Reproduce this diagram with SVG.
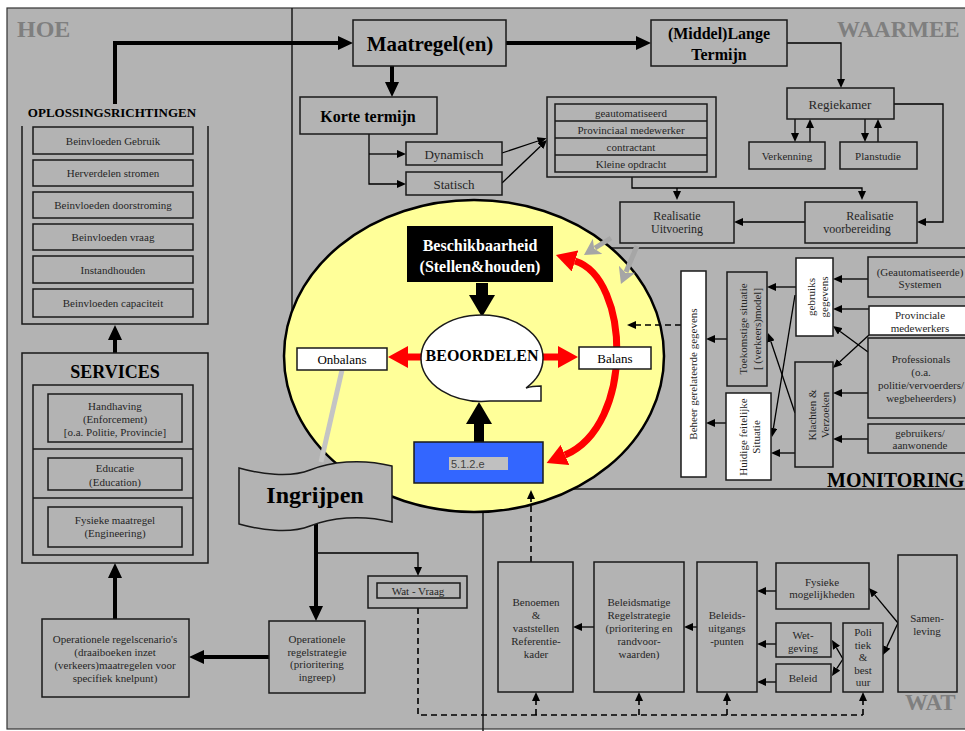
<svg xmlns="http://www.w3.org/2000/svg" width="965" height="731" viewBox="0 0 965 731">
<defs>
<style>
.bx{fill:#b3b3b3;stroke:#1a1a1a;stroke-width:1.5}
.wb{fill:#fff;stroke:#1a1a1a;stroke-width:1.5}
.t{font-family:"Liberation Serif","Times New Roman",serif;font-size:11px;fill:#262626;text-anchor:middle}
.t12{font-size:12px}
.t13{font-size:13px}
.tb{font-family:"Liberation Serif","Times New Roman",serif;font-weight:bold;fill:#000;text-anchor:middle}
.rg{font-family:"Liberation Serif","Times New Roman",serif;font-weight:bold;fill:#7f7f7f}
.thick{fill:none;stroke:#000;stroke-width:4}
.thin{fill:none;stroke:#000;stroke-width:1.3}
.dash{fill:none;stroke:#000;stroke-width:1.6;stroke-dasharray:6 4}
.red{fill:none;stroke:#f00;stroke-width:7}
.gr{fill:none;stroke:#a6a6a6;stroke-width:5}
.dv{fill:none;stroke:#1a1a1a;stroke-width:1.5}
</style>
<marker id="ah" markerUnits="userSpaceOnUse" markerWidth="16" markerHeight="14" refX="0" refY="7" orient="auto"><path d="M0,0 L15,7 L0,14 Z" fill="#000"/></marker>
<marker id="as" markerUnits="userSpaceOnUse" markerWidth="10" markerHeight="8" refX="0" refY="4" orient="auto"><path d="M0,0 L9,4 L0,8 Z" fill="#000"/></marker>
<marker id="ar" markerUnits="userSpaceOnUse" markerWidth="21" markerHeight="22" refX="0" refY="11" orient="auto-start-reverse"><path d="M0,0 L20,11 L0,22 Z" fill="#f00"/></marker>
<marker id="ag" markerUnits="userSpaceOnUse" markerWidth="17" markerHeight="18" refX="3" refY="9" orient="auto"><path d="M0,0 L16,9 L0,18 L4,9 Z" fill="#a6a6a6"/></marker>
<marker id="ab" markerUnits="userSpaceOnUse" markerWidth="23" markerHeight="26" refX="0" refY="13" orient="auto"><path d="M0,0 L22,13 L0,26 Z" fill="#000"/></marker>
</defs>

<rect x="7" y="8" width="965" height="721" fill="#b3b3b3" stroke="#333" stroke-width="1.2"/>

<g id="regions">
<path class="dv" d="M292,8 V330"/>
<path class="dv" d="M600,248 H965"/>
<path class="dv" d="M560,489 H965"/>
<path class="dv" d="M483,490 V731"/>
<text class="rg" x="17" y="37" font-size="24">HOE</text>
<text class="rg" x="837" y="37" font-size="23">WAARMEE</text>
<text class="rg" x="905" y="710" font-size="23">WAT</text>
<text class="tb" x="827" y="487" font-size="20" style="text-anchor:start">MONITORING</text>
</g>

<g id="beoordelingscirkel">
<ellipse cx="474" cy="356" rx="190" ry="156" fill="#ffff99" stroke="#000" stroke-width="2.5"/>
</g>

<g id="connectors">
<path class="thick" d="M115,104 V43 H338" marker-end="url(#ah)"/>
<path class="thick" d="M506,43 H636" marker-end="url(#ah)"/>
<path class="thick" d="M392,66 V82" marker-end="url(#ah)"/>
<path class="thin" d="M369,134 V184 H397" marker-end="url(#as)"/>
<path class="thin" d="M369,154 H397" marker-end="url(#as)"/>
<path class="thin" d="M502,153 L538,141" marker-end="url(#as)"/>
<path class="thin" d="M502,183 L540.5,146.2" marker-end="url(#as)"/>
<path class="thin" d="M632,172 V188 H862 V191" marker-end="url(#as)"/>
<path class="thin" d="M677,188 V191" marker-end="url(#as)"/>
<path class="thin" d="M787,43 H841 V79" marker-end="url(#as)"/>
<path class="thin" d="M894,104 H943 V222 H926" marker-end="url(#as)"/>
<path class="thin" d="M805,222 H743" marker-end="url(#as)"/>
<path class="thin" d="M795,119 V133" marker-end="url(#as)"/>
<path class="thin" d="M810,142 V128" marker-end="url(#as)"/>
<path class="thin" d="M865,119 V133" marker-end="url(#as)"/>
<path class="thin" d="M878,142 V128" marker-end="url(#as)"/>
<path class="thick" d="M115,353 V340" marker-end="url(#ah)"/>
<path class="thick" d="M115,619 V578" marker-end="url(#ah)"/>
<path class="thick" d="M269,657 H204" marker-end="url(#ah)"/>
<path class="thick" d="M316,522 V606" marker-end="url(#ah)"/>
<path class="thin" d="M316,553 H418 V567" marker-end="url(#as)"/>
<path class="dash" d="M418,608 V715 H863"/>
<path class="dash" d="M536,715 V701" marker-end="url(#as)"/>
<path class="dash" d="M639,715 V701" marker-end="url(#as)"/>
<path class="dash" d="M727,715 V701" marker-end="url(#as)"/>
<path class="dash" d="M863,715 V701" marker-end="url(#as)"/>
<path class="dash" d="M531,562 V499" marker-end="url(#as)"/>
<path class="dash" d="M681,325 H636" marker-end="url(#as)"/>
<path class="thin" d="M727,339 H715" marker-end="url(#as)"/>
<path class="thin" d="M726,423 H715" marker-end="url(#as)"/>
<path class="thin" d="M796,287 H776" marker-end="url(#as)"/>
<path class="thin" d="M795,295 L773.4,428.1" marker-end="url(#as)"/>
<path class="thin" d="M795,413 L770.9,341.5" marker-end="url(#as)"/>
<path class="thin" d="M795,453 H780" marker-end="url(#as)"/>
<path class="thin" d="M868,279 H842" marker-end="url(#as)"/>
<path class="thin" d="M869,309 H842" marker-end="url(#as)"/>
<path class="thin" d="M868,352 L840.2,331.4" marker-end="url(#as)"/>
<path class="thin" d="M869,335 L839.6,361.9" marker-end="url(#as)"/>
<path class="thin" d="M868,393 H842" marker-end="url(#as)"/>
<path class="thin" d="M868,439 H842" marker-end="url(#as)"/>
<path class="thin" d="M594,627 H582" marker-end="url(#as)"/>
<path class="thin" d="M697,627 H693" marker-end="url(#as)"/>
<path class="thin" d="M776,591 H766" marker-end="url(#as)"/>
<path class="thin" d="M776,644 H766" marker-end="url(#as)"/>
<path class="thin" d="M776,682 H766" marker-end="url(#as)"/>
<path class="thin" d="M843,659 L836.5,647.8" marker-end="url(#as)"/>
<path class="thin" d="M843,659 L836.9,668.4" marker-end="url(#as)"/>
<path class="thin" d="M898,623 L874.7,594.9" marker-end="url(#as)"/>
<path class="thin" d="M898,623 L886.8,646.9" marker-end="url(#as)"/>
<path class="red" d="M422,357 H408" marker-end="url(#ar)"/>
<path class="red" d="M543,357 H558" marker-end="url(#ar)"/>
<path class="red" d="M575,261 C630,278 635,425 565,455" marker-start="url(#ar)" marker-end="url(#ar)"/>
<path fill="none" stroke="#000" stroke-width="12" d="M482,283 V295" marker-end="url(#ab)"/>
<path fill="none" stroke="#000" stroke-width="10" d="M479,442 V424" marker-end="url(#ab)"/>
<path fill="none" stroke="#c4c4c4" stroke-width="5" d="M342,370 L321,462"/>
<path class="gr" d="M611,238 L595,248" marker-end="url(#ag)"/>
<path class="gr" d="M637,246 L626,272" marker-end="url(#ag)"/>
</g>

<g id="oplossingsrichtingen">
<text class="tb" x="112" y="117" font-size="13">OPLOSSINGSRICHTINGEN</text>
<path class="dv" d="M22,126 V324 H208 V126"/>
<rect class="bx" x="33" y="127" width="160" height="27"/>
<text class="t" x="113" y="144.5">Beinvloeden Gebruik</text>
<rect class="bx" x="33" y="160" width="160" height="26"/>
<text class="t" x="113" y="177">Herverdelen stromen</text>
<rect class="bx" x="33" y="192" width="160" height="26"/>
<text class="t" x="113" y="209">Beinvloeden doorstroming</text>
<rect class="bx" x="33" y="224" width="160" height="26"/>
<text class="t" x="113" y="241">Beinvloeden vraag</text>
<rect class="bx" x="33" y="256" width="160" height="27"/>
<text class="t" x="113" y="273.5">Instandhouden</text>
<rect class="bx" x="33" y="289" width="160" height="28"/>
<text class="t" x="113" y="307">Beinvloeden capaciteit</text>
</g>

<g id="services">
<rect class="bx" x="22" y="353" width="186" height="210"/>
<text class="tb" x="115" y="378" font-size="18">SERVICES</text>
<rect class="bx" x="33" y="385" width="160" height="170"/>
<path class="dv" d="M33,449 H193 M33,498 H193"/>
<rect class="bx" x="48" y="394" width="134" height="48"/>
<text class="t" x="115" y="410">Handhaving</text>
<text class="t" x="115" y="423">(Enforcement)</text>
<text class="t" x="115" y="436">[o.a. Politie, Provincie]</text>
<rect class="bx" x="48" y="458" width="134" height="32"/>
<text class="t" x="115" y="472">Educatie</text>
<text class="t" x="115" y="486">(Education)</text>
<rect class="bx" x="48" y="507" width="134" height="40"/>
<text class="t" x="115" y="524">Fysieke maatregel</text>
<text class="t" x="115" y="537">(Engineering)</text>
</g>

<g id="regelscenarios">
<rect class="bx" x="42" y="619" width="147" height="78"/>
<text class="t" x="115" y="643">Operationele regelscenario's</text>
<text class="t" x="115" y="656">(draaiboeken inzet</text>
<text class="t" x="115" y="669">(verkeers)maatregelen voor</text>
<text class="t" x="115" y="682">specifiek knelpunt)</text>
</g>

<g id="regelstrategie">
<rect class="bx" x="269" y="621" width="96" height="72"/>
<text class="t" x="317" y="643">Operationele</text>
<text class="t" x="317" y="656">regelstrategie</text>
<text class="t" x="317" y="668">(prioritering</text>
<text class="t" x="317" y="681">ingreep)</text>
</g>

<g id="ingrijpen">
<path class="bx" d="M239,468 C260,474 290,478 310,470 C330,462 360,458 392,466 L392,522 C360,514 330,518 310,526 C290,534 260,530 239,524 Z"/>
<text class="tb" x="315" y="503" font-size="24">Ingrijpen</text>
</g>

<g id="wat-vraag">
<rect class="bx" x="368" y="576" width="99" height="32"/>
<rect class="bx" x="377" y="583" width="83" height="15"/>
<text class="t" x="418" y="594.5">Wat - Vraag</text>
</g>

<g id="maatregelen">
<rect class="bx" x="353" y="20" width="153" height="46"/>
<text class="tb" x="430" y="51" font-size="21">Maatregel(en)</text>
</g>

<g id="lange-termijn">
<rect class="bx" x="651" y="20" width="136" height="46"/>
<text class="tb" x="719" y="39" font-size="16">(Middel)Lange</text>
<text class="tb" x="719" y="60" font-size="16">Termijn</text>
</g>

<g id="korte-termijn">
<rect class="bx" x="300" y="97" width="137" height="37"/>
<text class="tb" x="368" y="122" font-size="16">Korte termijn</text>
</g>

<g id="dynamisch">
<rect class="bx" x="406" y="142" width="96" height="23"/>
<text class="t t13" x="454" y="158.5">Dynamisch</text>
</g>

<g id="statisch">
<rect class="bx" x="406" y="172" width="96" height="23"/>
<text class="t t13" x="454" y="188.5">Statisch</text>
</g>

<g id="uitvoerders">
<rect class="bx" x="547" y="97" width="169" height="80"/>
<rect class="bx" x="555" y="104" width="152" height="68"/>
<path class="dv" d="M555,121 H707 M555,138 H707 M555,155 H707"/>
<text class="t" x="631" y="116.5">geautomatiseerd</text>
<text class="t" x="631" y="133.5">Provinciaal medewerker</text>
<text class="t" x="631" y="150.5">contractant</text>
<text class="t" x="631" y="167.5">Kleine opdracht</text>
</g>

<g id="regiekamer">
<rect class="bx" x="787" y="88" width="107" height="31"/>
<text class="t t13" x="840" y="108.5">Regiekamer</text>
</g>

<g id="verkenning">
<rect class="bx" x="749" y="142" width="76" height="27"/>
<text class="t" x="787" y="159.5">Verkenning</text>
</g>

<g id="planstudie">
<rect class="bx" x="840" y="142" width="77" height="27"/>
<text class="t" x="878" y="159.5">Planstudie</text>
</g>

<g id="realisatie-uitvoering">
<rect class="bx" x="620" y="202" width="114" height="41"/>
<text class="t t12" x="677" y="220">Realisatie</text>
<text class="t t12" x="677" y="233">Uitvoering</text>
</g>

<g id="realisatie-voorbereiding">
<rect class="bx" x="805" y="202" width="112" height="41"/>
<text class="t t12" x="870" y="220">Realisatie</text>
<text class="t t12" x="857" y="233">voorbereiding</text>
</g>

<g id="beschikbaarheid">
<rect x="407" y="226" width="146" height="56" fill="#000"/>
<text class="tb" x="480" y="251" font-size="16" style="fill:#fff">Beschikbaarheid</text>
<text class="tb" x="480" y="272" font-size="16" style="fill:#fff">(Stellen&amp;houden)</text>
</g>

<g id="beoordelen">
<path class="wb" d="M421,358 A61,43 0 0 1 543,358 A61,43 0 0 1 526,388 Q532,386 541,386 L541,401 L490,401 A61,43 0 0 1 421,358 Z"/>
<text class="tb" x="482" y="361" font-size="16">BEOORDELEN</text>
</g>

<g id="onbalans">
<rect class="wb" x="297" y="348" width="90" height="22"/>
<text class="t t13" x="342" y="363.5" style="fill:#000">Onbalans</text>
</g>

<g id="balans">
<rect class="wb" x="579" y="347" width="72" height="22"/>
<text class="t t13" x="615" y="362.5" style="fill:#000">Balans</text>
</g>

<g id="n512e">
<rect x="414" y="442" width="129" height="41" fill="#3366ff" stroke="#1a1a1a" stroke-width="1.5"/>
<rect x="449" y="457" width="59" height="13" fill="#c0c0c0"/>
<text x="451" y="467.5" font-family="'Liberation Sans',Arial,sans-serif" font-size="11" fill="#404040">5.1.2.e</text>
</g>

<g id="beheer-gegevens">
<rect class="wb" x="681" y="271" width="25" height="206"/>
<text class="t" transform="translate(697,374) rotate(-90)">Beheer gerelateerde gegevens</text>
</g>

<g id="toekomstige-situatie">
<rect class="bx" x="727" y="272" width="40" height="114"/>
<text class="t" transform="translate(747,329) rotate(-90)">Toekomstige situatie</text>
<text class="t" transform="translate(761,329) rotate(-90)">[ (verkeers)model]</text>
</g>

<g id="huidige-situatie">
<rect class="wb" x="726" y="393" width="45" height="87"/>
<text class="t" transform="translate(747,437) rotate(-90)">Huidige feitelijke</text>
<text class="t" transform="translate(760,437) rotate(-90)">Situatie</text>
</g>

<g id="gebruiksgegevens">
<rect class="wb" x="796" y="258" width="37" height="78"/>
<text class="t" transform="translate(815,297) rotate(-90)">gebruiks</text>
<text class="t" transform="translate(828,297) rotate(-90)">gegevens</text>
</g>

<g id="klachten">
<rect class="bx" x="795" y="362" width="38" height="105"/>
<text class="t" transform="translate(816,415) rotate(-90)">Klachten &amp;</text>
<text class="t" transform="translate(829,415) rotate(-90)">Verzoeken</text>
</g>

<g id="systemen">
<rect class="bx" x="868" y="257" width="104" height="40"/>
<text class="t" x="920" y="276">(Geautomatiseerde)</text>
<text class="t" x="920" y="288">Systemen</text>
</g>

<g id="provinciale-medewerkers">
<rect class="wb" x="869" y="306" width="103" height="29"/>
<text class="t" x="920" y="319">Provinciale</text>
<text class="t" x="920" y="332">medewerkers</text>
</g>

<g id="professionals">
<rect class="bx" x="868" y="338" width="104" height="80"/>
<text class="t" x="921" y="363">Professionals</text>
<text class="t" x="921" y="376">(o.a.</text>
<text class="t" x="921" y="389">politie/vervoerders/</text>
<text class="t" x="921" y="402">wegbeheerders)</text>
</g>

<g id="gebruikers">
<rect class="bx" x="868" y="424" width="104" height="29"/>
<text class="t" x="920" y="437">gebruikers/</text>
<text class="t" x="920" y="449">aanwonende</text>
</g>

<g id="benoemen">
<rect class="bx" x="498" y="562" width="75" height="130"/>
<text class="t" x="536" y="606">Benoemen</text>
<text class="t" x="536" y="619">&amp;</text>
<text class="t" x="536" y="632">vaststellen</text>
<text class="t" x="536" y="645">Referentie-</text>
<text class="t" x="536" y="658">kader</text>
</g>

<g id="beleidsmatige-regelstrategie">
<rect class="bx" x="594" y="562" width="90" height="130"/>
<text class="t" x="639" y="606">Beleidsmatige</text>
<text class="t" x="639" y="619">Regelstrategie</text>
<text class="t" x="639" y="632">(prioritering en</text>
<text class="t" x="639" y="645">randvoor-</text>
<text class="t" x="639" y="658">waarden)</text>
</g>

<g id="beleidsuitgangspunten">
<rect class="bx" x="697" y="562" width="60" height="130"/>
<text class="t" x="727" y="619">Beleids-</text>
<text class="t" x="727" y="632">uitgangs</text>
<text class="t" x="727" y="645">-punten</text>
</g>

<g id="fysieke-mogelijkheden">
<rect class="bx" x="776" y="563" width="93" height="46"/>
<text class="t" x="822" y="586">Fysieke</text>
<text class="t" x="822" y="598">mogelijkheden</text>
</g>

<g id="wetgeving">
<rect class="bx" x="776" y="623" width="55" height="34"/>
<text class="t" x="803" y="639">Wet-</text>
<text class="t" x="803" y="652">geving</text>
</g>

<g id="beleid">
<rect class="bx" x="776" y="664" width="55" height="28"/>
<text class="t" x="803" y="682">Beleid</text>
</g>

<g id="politiek-bestuur">
<rect class="bx" x="843" y="623" width="40" height="69"/>
<text class="t" x="863" y="636">Poli</text>
<text class="t" x="863" y="649">tiek</text>
<text class="t" x="863" y="661">&amp;</text>
<text class="t" x="863" y="674">best</text>
<text class="t" x="863" y="686">uur</text>
</g>

<g id="samenleving">
<rect class="bx" x="898" y="555" width="59" height="137"/>
<text class="t" x="927" y="622">Samen-</text>
<text class="t" x="927" y="635">leving</text>
</g>
</svg>
